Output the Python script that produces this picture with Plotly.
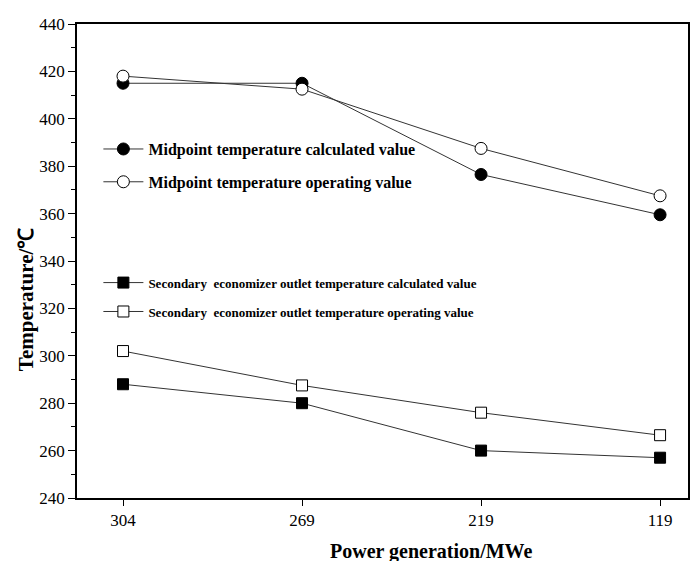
import plotly.graph_objects as go

power_labels = ["304", "269", "219", "119"]
mid_calc = [415, 415, 376.5, 359.5]
mid_oper = [418, 412.5, 387.5, 367.5]
eco_calc = [288, 280, 260, 257]
eco_oper = [302, 287.5, 276, 266.5]

serif = "Liberation Serif, Times New Roman, serif"

fig = go.Figure()

def add_series(y, name, symbol, fill, legend, group):
    fig.add_trace(go.Scatter(
        x=power_labels, y=y, name="<b>" + name + "</b>",
        mode="lines+markers",
        line=dict(color="#333333", width=1),
        marker=dict(symbol=symbol, size=12 if "circle" in symbol else 11,
                    color=fill, line=dict(color="black", width=1)),
        legend=legend, legendgroup=group,
    ))

add_series(mid_calc, "Midpoint temperature calculated value", "circle", "black", "legend", "a")
add_series(mid_oper, "Midpoint temperature operating value", "circle", "white", "legend", "b")
add_series(eco_calc, "Secondary  economizer outlet temperature calculated value", "square", "black", "legend2", "c")
add_series(eco_oper, "Secondary  economizer outlet temperature operating value", "square", "white", "legend2", "d")

fig.update_layout(
    width=699, height=561,
    margin=dict(l=69, r=19, t=7, b=71),
    paper_bgcolor="white", plot_bgcolor="white",
    font=dict(family=serif, color="black", size=16),
    legend=dict(x=0.035, y=0.772, xanchor="left", yanchor="top",
                bgcolor="rgba(0,0,0,0)", font=dict(size=16, family=serif),
                tracegroupgap=9, itemwidth=40),
    legend2=dict(x=0.035, y=0.486, xanchor="left", yanchor="top",
                 bgcolor="rgba(0,0,0,0)", font=dict(size=13, family=serif),
                 tracegroupgap=9, itemwidth=40),
    annotations=[
        dict(text="<b>Power generation/MWe</b>", xref="paper", yref="paper",
             x=0.58, y=-0.113, xanchor="center", yanchor="middle",
             showarrow=False, font=dict(size=20, family=serif)),
        dict(text="<b>Temperature/℃</b>", xref="paper", yref="paper",
             x=-0.083, y=0.418, xanchor="center", yanchor="middle",
             textangle=-90, showarrow=False, font=dict(size=21, family=serif)),
    ],
)

fig.update_xaxes(
    type="category", range=[-0.257, 3.156],
    showline=True, linecolor="black", linewidth=1.5, mirror=True,
    ticks="outside", ticklen=6, tickcolor="black", showgrid=False, zeroline=False,
    tickfont=dict(size=17, family=serif),
)
fig.update_yaxes(
    range=[240, 440], dtick=20, tick0=240,
    showline=True, linecolor="black", linewidth=1.5, mirror=True,
    ticks="outside", ticklen=7, tickcolor="black", showgrid=False, zeroline=False,
    minor=dict(dtick=10, ticks="outside", ticklen=4, tickcolor="black", showgrid=False),
    tickfont=dict(size=17, family=serif), ticklabeloverflow="allow",
)

fig.write_html("out.html")
